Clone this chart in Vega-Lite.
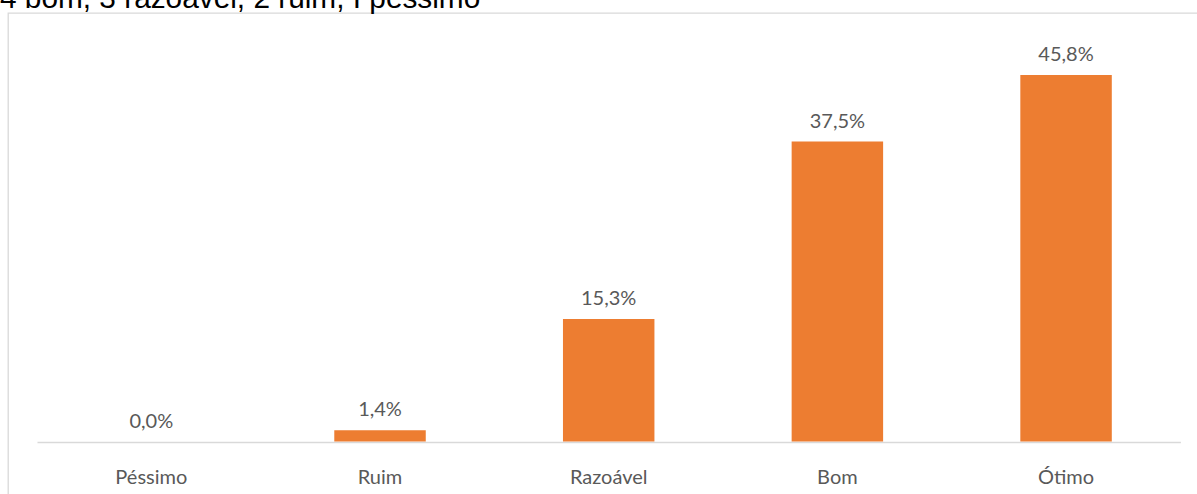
{
  "$schema": "https://vega.github.io/schema/vega-lite/v6.json",
  "autosize": {"type": "none"},
  "padding": {"left": 8, "top": 13, "right": 0, "bottom": 0},
  "width": 1200,
  "height": 490,
  "background": "white",
  "title": {
    "text": "4 bom, 3 razoável, 2 ruim, I péssimo",
    "font": "Liberation Sans",
    "fontSize": 29.8,
    "fontWeight": "normal",
    "color": "#000000",
    "anchor": "start",
    "frame": "group",
    "baseline": "alphabetic",
    "offset": 0,
    "dy": 25,
    "dx": -8
  },
  "config": {
    "view": {"stroke": "#d9d9d9", "strokeWidth": 1.3},
    "font": "Lato"
  },
  "data": {
    "values": [
      {"categoria": "Péssimo", "valor": 0.0, "rotulo": "0,0%"},
      {"categoria": "Ruim", "valor": 0.014, "rotulo": "1,4%"},
      {"categoria": "Razoável", "valor": 0.153, "rotulo": "15,3%"},
      {"categoria": "Bom", "valor": 0.375, "rotulo": "37,5%"},
      {"categoria": "Ótimo", "valor": 0.458, "rotulo": "45,8%"}
    ]
  },
  "encoding": {
    "x": {
      "field": "categoria",
      "type": "nominal",
      "sort": null,
      "scale": {"range": [29, 1172.4], "paddingInner": 0.6, "paddingOuter": 0.3},
      "axis": {
        "title": null,
        "offset": -61,
        "domainColor": "#d9d9d9",
        "domainWidth": 1.5,
        "ticks": false,
        "tickSize": 0,
        "labelAngle": 0,
        "labelFont": "Lato",
        "labelFontSize": 20,
        "labelColor": "#595959",
        "labelBaseline": "alphabetic",
        "labelPadding": 41
      }
    },
    "y": {
      "field": "valor",
      "type": "quantitative",
      "scale": {"domain": [0, 0.5], "range": [428.5, 28.5], "nice": false, "zero": true},
      "axis": null
    }
  },
  "layer": [
    {"mark": {"type": "bar", "color": "#ED7D31"}},
    {
      "mark": {
        "type": "text",
        "baseline": "alphabetic",
        "dy": -14,
        "font": "Lato",
        "fontSize": 20,
        "color": "#595959"
      },
      "encoding": {"text": {"field": "rotulo"}}
    }
  ]
}
